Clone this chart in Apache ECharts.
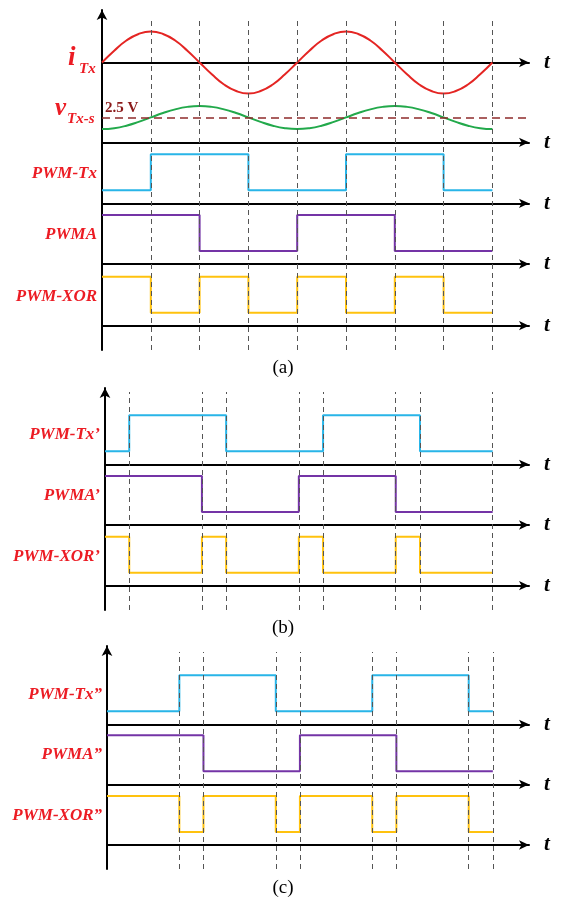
<!DOCTYPE html>
<html>
<head>
<meta charset="utf-8">
<title>PWM timing</title>
<script src="https://cdn.jsdelivr.net/npm/echarts@6/dist/echarts.min.js"></script>
<style>
  html, body { margin: 0; padding: 0; background: #fff; }
  #main { width: 569px; height: 904px; }
</style>
</head>
<body>
<div id="main"></div>
<script>
// time in quarter periods, read every sixteenth of a period
const tSamples = [0, 0.25, 0.5, 0.75, 1, 1.25, 1.5, 1.75, 2, 2.25, 2.5, 2.75, 3, 3.25, 3.5, 3.75,
  4, 4.25, 4.5, 4.75, 5, 5.25, 5.5, 5.75, 6, 6.25, 6.5, 6.75, 7, 7.25, 7.5, 7.75, 8];
const iTx = [0, 0.38, 0.71, 0.92, 1, 0.92, 0.71, 0.38, 0, -0.38, -0.71, -0.92, -1, -0.92, -0.71, -0.38,
  0, 0.38, 0.71, 0.92, 1, 0.92, 0.71, 0.38, 0, -0.38, -0.71, -0.92, -1, -0.92, -0.71, -0.38, 0];
const vTxs = [1.33, 1.42, 1.67, 2.05, 2.5, 2.94, 3.31, 3.56, 3.65, 3.56, 3.31, 2.94, 2.5, 2.05, 1.67, 1.42,
  1.33, 1.42, 1.67, 2.05, 2.5, 2.94, 3.31, 3.56, 3.65, 3.56, 3.31, 2.94, 2.5, 2.05, 1.67, 1.42, 1.33];
const vRef = 2.5;

// square waves: [time, level], level held until next point
const pwmTx = [[0, 0], [1, 1], [3, 0], [5, 1], [7, 0], [8, 0]];
const pwmA = [[0, 1], [2, 0], [4, 1], [6, 0], [8, 0]];
const pwmXor = [[0, 1], [1, 0], [2, 1], [3, 0], [4, 1], [5, 0], [6, 1], [7, 0], [8, 0]];
const pwmTxB = [[0, 0], [0.5, 1], [2.5, 0], [4.5, 1], [6.5, 0], [8, 0]];
const pwmAB = [[0, 1], [2, 0], [4, 1], [6, 0], [8, 0]];
const pwmXorB = [[0, 1], [0.5, 0], [2, 1], [2.5, 0], [4, 1], [4.5, 0], [6, 1], [6.5, 0], [8, 0]];
const pwmTxC = [[0, 0], [1.5, 1], [3.5, 0], [5.5, 1], [7.5, 0], [8, 0]];
const pwmAC = [[0, 1], [2, 0], [4, 1], [6, 0], [8, 0]];
const pwmXorC = [[0, 1], [1.5, 0], [2, 1], [3.5, 0], [4, 1], [5.5, 0], [6, 1], [7.5, 0], [8, 0]];

// dashed guide lines
const edgesA = [1, 2, 3, 4, 5, 6, 7, 8];
const edgesB = [0.5, 2, 2.5, 4, 4.5, 6, 6.5, 8];
const edgesC = [1.5, 2, 3.5, 4, 5.5, 6, 7.5, 8];

const SERIF = '"Liberation Serif", "Times New Roman", serif';
const RED = '#EC1C24';
const CYAN = '#29B5E8';
const PURPLE = '#7434A6';
const YELLOW = '#FFC20E';
const T_MAX = 8.75;
const RIGHT = 40;

const panels = [
  {x0: 102, tip: 5, bottom: 350, dashTop: 17, edges: edgesA, caption: '(a)', captionY: 368},
  {x0: 105, tip: 383, bottom: 610, dashTop: 392, edges: edgesB, caption: '(b)', captionY: 628},
  {x0: 107, tip: 641, bottom: 869, dashTop: 652, edges: edgesC, caption: '(c)', captionY: 888}
];

const pulseTracks = [
  {panel: 0, axisY: 203.3, data: pwmTx, color: CYAN, label: 'PWM-Tx'},
  {panel: 0, axisY: 264, data: pwmA, color: PURPLE, label: 'PWMA'},
  {panel: 0, axisY: 325.7, data: pwmXor, color: YELLOW, label: 'PWM-XOR'},
  {panel: 1, axisY: 464.3, data: pwmTxB, color: CYAN, label: 'PWM-Tx\u2019'},
  {panel: 1, axisY: 525, data: pwmAB, color: PURPLE, label: 'PWMA\u2019'},
  {panel: 1, axisY: 585.7, data: pwmXorB, color: YELLOW, label: 'PWM-XOR\u2019'},
  {panel: 2, axisY: 724.3, data: pwmTxC, color: CYAN, label: 'PWM-Tx\u201D'},
  {panel: 2, axisY: 784.3, data: pwmAC, color: PURPLE, label: 'PWMA\u201D'},
  {panel: 2, axisY: 845, data: pwmXorC, color: YELLOW, label: 'PWM-XOR\u201D'}
];

const grids = [];
const xAxes = [];
const yAxes = [];
const series = [];
const graphics = [];

function addGrid(left, top, height, xOpt, yOpt) {
  const idx = grids.length;
  grids.push({left: left, right: RIGHT, top: top, height: height, containLabel: false, outerBoundsMode: 'none'});
  xAxes.push(Object.assign({gridIndex: idx, type: 'value', min: 0, max: T_MAX, show: false}, xOpt));
  yAxes.push(Object.assign({gridIndex: idx, type: 'value', show: false}, yOpt));
  return idx;
}

function tAxis(onZero, offset) {
  return {
    show: true,
    offset: offset,
    name: 't',
    nameLocation: 'end',
    nameGap: 15,
    nameTextStyle: {fontFamily: SERIF, fontStyle: 'italic', fontWeight: 'bold', fontSize: 21, color: '#000'},
    axisLine: {show: true, onZero: onZero, symbol: ['none', 'arrow'], symbolSize: [7, 10],
      lineStyle: {color: '#000', width: 2}},
    axisTick: {show: false},
    axisLabel: {show: false},
    splitLine: {show: false}
  };
}

function text(str, x, y, font, color, align) {
  graphics.push({
    type: 'text', x: x, y: y, silent: true,
    style: {text: str, font: font, fill: color, align: align, textAlign: align,
      verticalAlign: 'middle', textVerticalAlign: 'middle'}
  });
}

function zip(ts, vs) {
  return ts.map((t, k) => [t, vs[k]]);
}

// i_Tx
let g = addGrid(panels[0].x0, 31.5, 62, tAxis(true, 0), {min: -1, max: 1});
series.push({type: 'line', xAxisIndex: g, yAxisIndex: g, data: zip(tSamples, iTx), smooth: true,
  symbol: 'none', clip: false, lineStyle: {color: '#E42523', width: 2}});
text('i', 68, 58, 'italic bold 27px ' + SERIF, RED, 'left');
text('Tx', 79, 69.5, 'italic bold 15px ' + SERIF, RED, 'left');

// v_Tx-s with 2.5 V reference
g = addGrid(panels[0].x0, 102.5, 39.8, tAxis(true, 0), {min: 0, max: 4});
series.push({type: 'line', xAxisIndex: g, yAxisIndex: g, data: zip(tSamples, vTxs), smooth: true,
  symbol: 'none', clip: false, lineStyle: {color: '#22A94B', width: 2},
  markLine: {
    silent: true, symbol: ['none', 'none'],
    lineStyle: {color: '#8E2B2B', width: 1.5, type: [8, 5]},
    label: {show: true, position: 'insideStartTop', distance: [3, 2], formatter: '2.5 V',
      fontFamily: SERIF, fontWeight: 'bold', fontSize: 15, color: '#8B1A1A'},
    data: [{yAxis: vRef}]
  }});
text('v', 55, 108.5, 'italic bold 25px ' + SERIF, RED, 'left');
text('Tx-s', 67, 119.5, 'italic bold 15px ' + SERIF, RED, 'left');

// pulse tracks
pulseTracks.forEach(function (tr) {
  const p = panels[tr.panel];
  const idx = addGrid(p.x0, tr.axisY - 49, 36, tAxis(false, 13), {min: 0, max: 1});
  series.push({type: 'line', xAxisIndex: idx, yAxisIndex: idx, data: tr.data, step: 'end',
    symbol: 'none', clip: false, lineStyle: {color: tr.color, width: 2}});
  text(tr.label, p.x0 - 5, tr.axisY - 29.5, 'italic bold 17px ' + SERIF, RED, 'right');
});

// vertical axes, dashed guides and captions
panels.forEach(function (p) {
  const top = p.tip + 5;
  addGrid(p.x0, top, p.bottom - top, {show: false}, {
    show: true, min: 0, max: 1,
    axisLine: {show: true, symbol: ['none', 'arrow'], symbolSize: [8, 10], lineStyle: {color: '#000', width: 2}},
    axisTick: {show: false}, axisLabel: {show: false}, splitLine: {show: false}
  });
  const d = addGrid(p.x0, p.dashTop, p.bottom - p.dashTop, {}, {min: 0, max: 1});
  series.push({type: 'line', xAxisIndex: d, yAxisIndex: d, data: [], symbol: 'none',
    markLine: {
      silent: true, symbol: ['none', 'none'], label: {show: false},
      lineStyle: {color: '#555', width: 1, type: [5, 4]},
      data: p.edges.map(e => ({xAxis: e}))
    }});
  text(p.caption, 283, p.captionY, '19px ' + SERIF, '#000', 'center');
});

const myChart = echarts.init(document.getElementById('main'));
myChart.setOption({
  animation: false,
  backgroundColor: '#fff',
  grid: grids,
  xAxis: xAxes,
  yAxis: yAxes,
  series: series,
  graphic: graphics
});
</script>
</body>
</html>
